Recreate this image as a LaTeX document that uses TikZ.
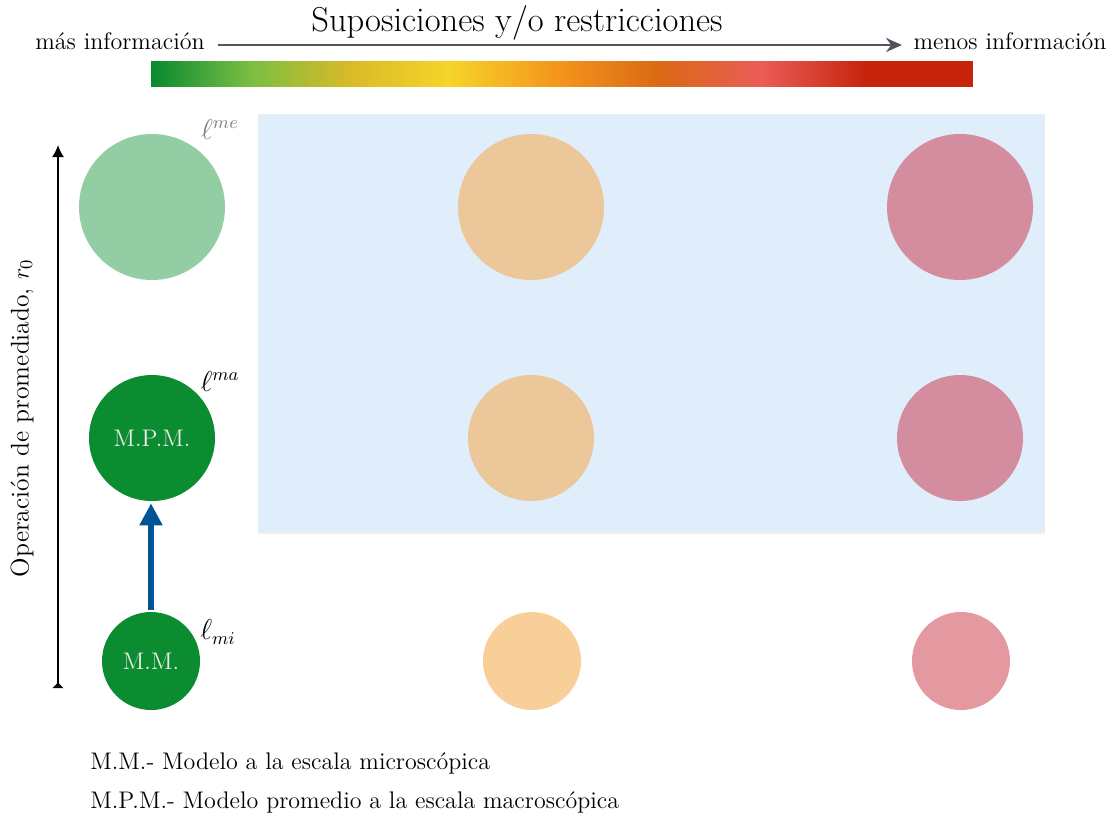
\documentclass[tikz,border=0pt]{standalone}
\usetikzlibrary{arrows.meta,shadows}
\definecolor{g0}{RGB}{8,137,48}
\definecolor{g1}{RGB}{121,190,66}
\definecolor{g2}{RGB}{216,186,40}
\definecolor{g3}{RGB}{246,212,40}
\definecolor{g4}{RGB}{244,148,28}
\definecolor{g5}{RGB}{218,105,20}
\definecolor{g6}{RGB}{234,92,88}
\definecolor{g7}{RGB}{198,36,10}
\definecolor{bgblue}{RGB}{224,238,251}
\definecolor{dkgreen}{RGB}{12,140,48}
\definecolor{ltgreen}{RGB}{147,205,163}
\definecolor{ltorange}{RGB}{236,199,154}
\definecolor{ltpink}{RGB}{212,141,159}
\definecolor{paleorange}{RGB}{249,207,153}
\definecolor{palepink}{RGB}{228,152,159}
\definecolor{arrblue}{RGB}{0,84,147}
\definecolor{arrgray}{RGB}{80,85,92}
\begin{document}
\begin{tikzpicture}[x=0.5pt,y=-0.5pt,
  txt/.style={font=\fontsize{12}{14}\selectfont, inner sep=0pt},
  ball/.style={circle, inner sep=0pt, draw=none, text=white!85!gray, font=\fontsize{12}{14}\selectfont},
  lab/.style={font=\fontsize{13.5}{16}\selectfont, inner sep=0pt}]
\useasboundingbox (0,0) rectangle (1113,816);
% gradient bar
\foreach \a/\b/\ca/\cb in {151/250/g0/g1,250/350/g1/g2,350/450/g2/g3,450/560/g3/g4,560/660/g4/g5,660/762/g5/g6,762/867/g6/g7}{
  \foreach \i in {0,...,49}{
    \pgfmathsetmacro\xa{\a+(\b-\a)*\i/50}
    \pgfmathsetmacro\xb{\a+(\b-\a)*(\i+1)/50+0.6}
    \pgfmathsetmacro\pc{(\i+0.5)*2}
    \fill[\cb!\pc!\ca] (\xa,61) rectangle (\xb,87);
  }
}
\fill[g7] (867,61) rectangle (973,87);
% title and arrow
\node[font=\fontsize{17.28}{21}\selectfont, inner sep=0pt] (title) at (517,23) {Suposiciones y/o restricciones};
\node[txt, anchor=base] (mas) at (120,49) {más información};
\node[txt, anchor=base] (menos) at (1010,49) {menos información};
\coordinate (a1) at (218,45);
\coordinate (a2) at (902,45);
\draw[arrgray, line width=1.1pt, -{Stealth[length=8pt,width=7pt]}] (a1) -- (a2);
% background
\fill[bgblue, drop shadow={opacity=0.12, shadow xshift=0pt, shadow yshift=-1.2pt}] (258,114) rectangle (1045,532);
% circles
\node[ball, fill=ltgreen, minimum size=73pt] (c11) at (152,207) {};
\node[ball, fill=ltorange, minimum size=73pt] (c12) at (531,207) {};
\node[ball, fill=ltpink, minimum size=73pt] (c13) at (960,207) {};
\node[ball, fill=dkgreen, minimum size=63pt] (c21) at (152,438) {M.P.M.};
\node[ball, fill=ltorange, minimum size=63pt] (c22) at (531,438) {};
\node[ball, fill=ltpink, minimum size=63pt] (c23) at (960,438) {};
\node[ball, fill=dkgreen, minimum size=49pt] (c31) at (151,661) {M.M.};
\node[ball, fill=paleorange, minimum size=49pt] (c32) at (532,661) {};
\node[ball, fill=palepink, minimum size=49pt] (c33) at (961,661) {};
% labels
\node[lab, text=gray] (lme) at (220,129) {$\ell^{me}$};
\node[lab] (lma) at (220,381) {$\ell^{ma}$};
\node[lab] (lmi) at (218,632) {$\ell_{mi}$};
% blue arrow
\draw[arrblue, line width=2.6pt, -{Triangle[length=11pt,width=11pt]}] ([yshift=1pt]c31.north) -- ([yshift=-1pt]c31.north |- c21.south);
% vertical axis
\coordinate (v1) at (58,688);
\coordinate (v2) at (58,145);
\draw[black, line width=0.8pt, {Latex[reversed,length=3pt,width=6pt]}-{Latex[length=6pt,width=6pt]}] (v1) -- (v2);
\node[font=\fontsize{12.8}{15}\selectfont, inner sep=0pt, rotate=90] (vlab) at (22,418) {Operación de promediado, $r_0$};
% legend
\node[txt, anchor=base west] (leg1) at (90,769) {M.M.- Modelo a la escala microscópica};
\node[txt, anchor=base west] (leg2) at (90,808) {M.P.M.- Modelo promedio a la escala macroscópica};
\end{tikzpicture}
\end{document}
